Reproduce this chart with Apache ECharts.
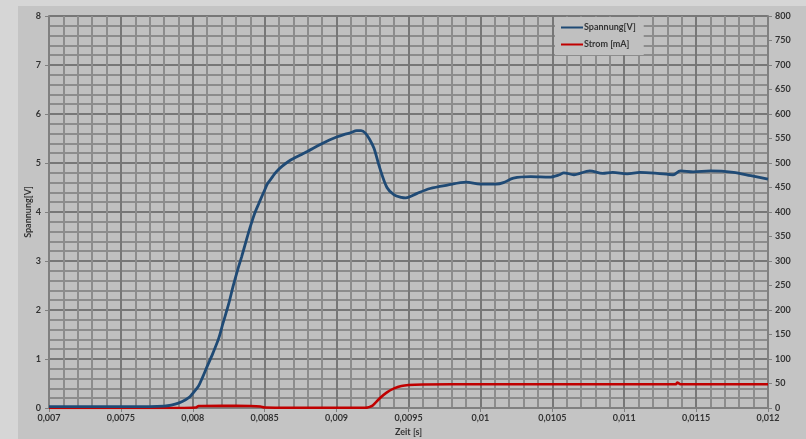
<!DOCTYPE html>
<html>
<head>
<meta charset="utf-8">
<script src="https://cdn.jsdelivr.net/npm/echarts@6/dist/echarts.min.js"></script>
<style>
html,body{margin:0;padding:0;background:#d6d6d6;}
#c{width:806px;height:439px;}
</style>
</head>
<body>
<div id="c"></div>
<script>
// Time axis (s)
const spannungTime = [0.007,0.0072,0.0074,0.0076,0.0077,0.0078,0.00785,0.0079,0.00795,0.00798,0.0080,0.00804,0.00807,0.0081,0.00814,0.00818,0.00821,0.00825,0.00828,0.00831,0.00834,0.00837,0.0084,0.00843,0.00846,0.0085,0.00852,0.00855,0.00858,0.00862,0.00866,0.0087,0.00876,0.0088,0.00885,0.0089,0.00895,0.009,0.00905,0.0091,0.00914,0.00917,0.0092,0.00923,0.00926,0.0093,0.00935,0.0094,0.00945,0.00948,0.0095,0.00956,0.00965,0.00977,0.0099,0.01,0.01011,0.01016,0.01023,0.01035,0.01048,0.01055,0.01058,0.01065,0.01076,0.01085,0.01092,0.01102,0.01111,0.01123,0.01134,0.01139,0.01148,0.0116,0.01176,0.01188,0.012];
const spannungValues = [0.03,0.03,0.03,0.03,0.03,0.04,0.06,0.10,0.17,0.23,0.30,0.45,0.64,0.85,1.12,1.42,1.73,2.13,2.48,2.80,3.09,3.40,3.70,3.97,4.18,4.45,4.58,4.70,4.82,4.93,5.02,5.09,5.18,5.24,5.32,5.40,5.47,5.53,5.58,5.62,5.66,5.66,5.61,5.48,5.30,4.90,4.50,4.35,4.30,4.29,4.30,4.38,4.48,4.55,4.61,4.57,4.57,4.60,4.69,4.72,4.71,4.76,4.80,4.76,4.84,4.79,4.81,4.78,4.81,4.79,4.76,4.84,4.82,4.84,4.81,4.74,4.67];
const stromTime = [0.007,0.0079,0.00802,0.00804,0.0082,0.0084,0.00847,0.0085,0.0087,0.0092,0.00925,0.0093,0.00935,0.0094,0.00945,0.0095,0.0096,0.01,0.0105,0.01136,0.01137,0.01139,0.012];
const stromValues = [0,0,1,4,4.5,4,3,1,0.5,0.5,5,20,32,40,45,47,48,48.5,48.5,48.5,52,48.5,48.5];
const seriesNames = ['Spannung[V]','Strom [mA]'];
const xAxisName = 'Zeit [s]';
const yAxisName = 'Spannung[V]';

const fontFam = 'Lato, "Liberation Sans", sans-serif';
const lblStyle = {color:'#333', fontSize:9, fontWeight:'bold', fontFamily:fontFam};
const blue = '#1f4a75', red = '#c00000';

const chart = echarts.init(document.getElementById('c'), null, {renderer:'canvas'});
chart.setOption({
  backgroundColor:'#d6d6d6',
  animation:false,
  graphic:[{type:'rect', z:-10, silent:true, shape:{x:18,y:6,width:788,height:433}, style:{fill:'#c4c4c4'}}],
  grid:{left:49,right:38,top:16,bottom:31,show:true,backgroundColor:'#c0c0c0',borderWidth:0,containLabel:false,outerBoundsMode:'none'},
  legend:{
    show:true, orient:'vertical', left:555, top:17,
    backgroundColor:'#c0c0c0', padding:[6,8,6,6], itemGap:8,
    itemWidth:22, itemHeight:2,
    textStyle:{color:'#333', fontSize:9, fontWeight:'bold', fontFamily:fontFam, padding:[0,0,0,-4]},
    data:[{name:seriesNames[0], icon:'rect', itemStyle:{color:blue}},{name:seriesNames[1], icon:'rect', itemStyle:{color:red}}]
  },
  xAxis:{
    type:'value', min:0.007, max:0.012, interval:0.0005,
    name:xAxisName, nameLocation:'middle', nameGap:20, nameMoveOverlap:false,
    nameTextStyle:lblStyle,
    axisLine:{show:true, onZero:false, lineStyle:{color:'#808080', width:2}},
    axisTick:{show:true, length:4, lineStyle:{color:'#808080'}},
    axisLabel:Object.assign({margin:6, formatter:v=>String(Number(v.toFixed(5))).replace('.',',')}, lblStyle),
    splitLine:{show:true, lineStyle:{color:'#777', width:2}},
    minorTick:{show:false, splitNumber:5},
    minorSplitLine:{show:true, lineStyle:{color:'#8c8c8c', width:2}}
  },
  yAxis:[{
    type:'value', min:0, max:8, interval:1,
    name:yAxisName, nameLocation:'middle', nameGap:16, nameRotate:90, nameMoveOverlap:false,
    nameTextStyle:lblStyle,
    axisLine:{show:true, lineStyle:{color:'#808080', width:2}},
    axisTick:{show:true, length:4, lineStyle:{color:'#808080'}},
    axisLabel:Object.assign({margin:8}, lblStyle),
    splitLine:{show:true, lineStyle:{color:'#777', width:2}},
    minorTick:{show:false, splitNumber:5},
    minorSplitLine:{show:true, lineStyle:{color:'#8c8c8c', width:2}}
  },{
    type:'value', min:0, max:800, interval:50, position:'right',
    axisLine:{show:true, lineStyle:{color:'#808080', width:2}},
    axisTick:{show:true, length:4, lineStyle:{color:'#808080'}},
    axisLabel:Object.assign({margin:7}, lblStyle),
    splitLine:{show:false}
  }],
  series:[{
    name:seriesNames[0], type:'line', yAxisIndex:0, showSymbol:false, symbol:'none', smooth:0.3,
    lineStyle:{color:blue, width:2.8}, itemStyle:{color:blue}, z:3,
    data:spannungTime.map((t,i)=>[t, spannungValues[i]])
  },{
    name:seriesNames[1], type:'line', yAxisIndex:1, showSymbol:false, symbol:'none', smooth:0.2,
    lineStyle:{color:red, width:2.6}, itemStyle:{color:red}, z:2,
    data:stromTime.map((t,i)=>[t, stromValues[i]])
  }]
});
</script>
</body>
</html>
